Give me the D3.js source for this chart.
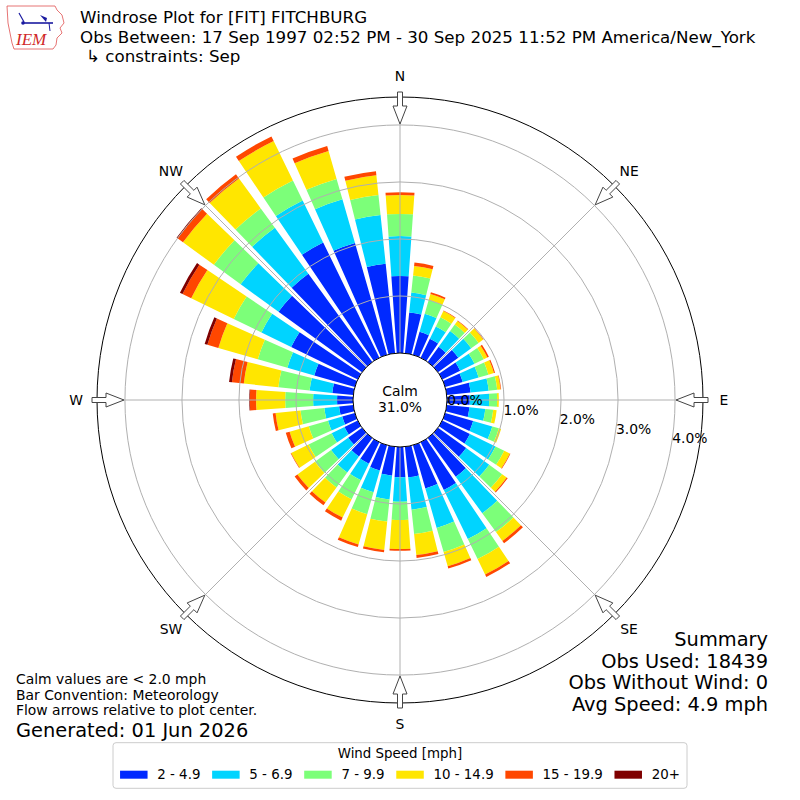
<!DOCTYPE html>
<html>
<head>
<meta charset="utf-8">
<script src="https://cdn.jsdelivr.net/npm/d3@7"></script>
<style>
  body { margin: 0; background: #fff; }
  svg { display: block; font-family: "DejaVu Sans", sans-serif; }
</style>
</head>
<body>
<svg id="chart" width="800" height="800"></svg>
<script>
// directions (deg, meteorological), one bar every 10 degrees
const directions = d3.range(0, 360, 10);

// percent of obs per speed class, same order as directions
const speed2to5   = [1.35,0.72,0.42,0.37,0.33,0.44,0.35,0.32,0.42,0.40,0.40,0.51,0.54,0.61,0.84,0.93,0.79,0.54,
                     0.53,0.51,0.46,0.42,0.40,0.30,0.26,0.23,0.25,0.28,0.37,0.74,1.30,1.81,1.91,2.25,2.04,1.58];
const speed5to7   = [0.70,0.35,0.33,0.24,0.34,0.28,0.28,0.29,0.32,0.34,0.28,0.35,0.50,0.50,0.79,0.96,0.72,0.57,
                     0.43,0.42,0.40,0.32,0.35,0.37,0.25,0.26,0.26,0.42,0.40,0.49,0.58,0.82,1.00,0.82,0.80,0.86];
const speed7to10  = [0.39,0.30,0.25,0.18,0.14,0.16,0.18,0.18,0.15,0.14,0.14,0.12,0.17,0.28,0.41,0.39,0.44,0.43,
                     0.32,0.39,0.40,0.37,0.32,0.35,0.45,0.35,0.42,0.49,0.55,0.54,0.54,0.58,0.42,0.39,0.37,0.35];
const speed10to15 = [0.33,0.17,0.11,0.12,0.08,0.10,0.07,0.10,0.06,0.03,0.06,0.04,0.11,0.10,0.19,0.30,0.26,0.37,
                     0.51,0.50,0.55,0.36,0.33,0.38,0.34,0.35,0.44,0.51,0.61,0.72,0.83,0.67,0.65,0.77,0.51,0.35];
const speed15to20 = [0.05,0.06,0.03,0.01,0.01,0.01,0.03,0.02,0.01,0.00,0.00,0.00,0.01,0.02,0.05,0.05,0.04,0.05,
                     0.03,0.04,0.05,0.06,0.06,0.06,0.01,0.07,0.05,0.11,0.21,0.20,0.17,0.12,0.09,0.09,0.09,0.07];
const speed20plus = [0,0,0,0,0,0,0,0,0,0,0,0,0,0,0,0,0,0,
                     0,0,0,0,0,0,0,0,0,0.01,0.05,0.05,0.05,0.02,0,0,0,0];

const speedLabels = ['2 - 4.9', '5 - 6.9', '7 - 9.9', '10 - 14.9', '15 - 19.9', '20+'];
const speedColors = ['#0029ff', '#00d4ff', '#7cff79', '#ffe600', '#ff4700', '#7f0000'];
const speedSeries = [speed2to5, speed5to7, speed7to10, speed10to15, speed15to20, speed20plus];

const ringTicks = [0, 1, 2, 3, 4];
const compassLabels = ['N', 'NE', 'E', 'SE', 'S', 'SW', 'W', 'NW'];
const compassAngles = [0, 45, 90, 135, 180, 225, 270, 315];
const calmPct = 31.0;

const titleLines = [
  'Windrose Plot for [FIT] FITCHBURG',
  'Obs Between: 17 Sep 1997 02:52 PM - 30 Sep 2025 11:52 PM America/New_York',
  '\u21b3 constraints: Sep'
];
const summaryLines = ['Summary', 'Obs Used: 18439', 'Obs Without Wind: 0', 'Avg Speed: 4.9 mph'];
const noteLines = ['Calm values are < 2.0 mph', 'Bar Convention: Meteorology', 'Flow arrows relative to plot center.'];

const svg = d3.select('#chart');
const cx = 400, cy = 400;
const rad = Math.PI / 180;
const barWidth = 8; // degrees

const r = d3.scaleLinear().domain([0, 4.49]).range([47, 303]);

// stacked table
const rows = directions.map((dir, i) => {
  const row = { dir };
  speedLabels.forEach((k, j) => { row[k] = speedSeries[j][i]; });
  return row;
});
const stacked = d3.stack().keys(speedLabels)(rows);

const plot = svg.append('g').attr('transform', `translate(${cx},${cy})`);

const arc = d3.arc()
  .innerRadius(d => r(d[0]))
  .outerRadius(d => r(d[1]))
  .startAngle(d => (d.data.dir - barWidth / 2) * rad)
  .endAngle(d => (d.data.dir + barWidth / 2) * rad);

plot.append('g').selectAll('g')
  .data(stacked)
  .join('g')
  .attr('fill', (d, i) => speedColors[i])
  .selectAll('path')
  .data(d => d.filter(s => s[1] - s[0] > 0))
  .join('path')
  .attr('d', arc);

// grid
const grid = plot.append('g').attr('fill', 'none').attr('stroke', '#b0b0b0').attr('stroke-width', 1);
grid.selectAll('circle')
  .data(ringTicks.slice(1))
  .join('circle')
  .attr('r', d => r(d));
grid.selectAll('line')
  .data(compassAngles)
  .join('line')
  .attr('x1', 0).attr('y1', 0)
  .attr('x2', d => r(4.49) * Math.sin(d * rad))
  .attr('y2', d => -r(4.49) * Math.cos(d * rad));

plot.append('circle')
  .attr('r', r(4.49))
  .attr('fill', 'none')
  .attr('stroke', '#000')
  .attr('stroke-width', 1);

// calm hole
plot.append('circle')
  .attr('r', r(0))
  .attr('fill', '#fff')
  .attr('stroke', '#000')
  .attr('stroke-width', 1);
plot.append('text')
  .attr('text-anchor', 'middle')
  .attr('y', -4)
  .attr('font-size', 13.9)
  .text('Calm');
plot.append('text')
  .attr('text-anchor', 'middle')
  .attr('y', 12)
  .attr('font-size', 13.9)
  .text(`${calmPct.toFixed(1)}%`);

// ring labels
const labelAng = 9.7 * rad;
plot.append('g').selectAll('text')
  .data(ringTicks)
  .join('text')
  .attr('x', d => r(d) * Math.cos(labelAng) + 1)
  .attr('y', d => r(d) * Math.sin(labelAng) - 3)
  .attr('font-size', 13.9)
  .text(d => `${d.toFixed(1)}%`);

// flow arrows on the rim, pointing in
const arrowPts = [[276, 0], [294, 7], [294, 2.5], [308, 2.5], [308, -2.5], [294, -2.5], [294, -7]];
plot.append('g').selectAll('path')
  .data(compassAngles)
  .join('path')
  .attr('d', a => {
    const s = Math.sin(a * rad), c = Math.cos(a * rad);
    return 'M' + arrowPts.map(([u, v]) => [u * s + v * c, -u * c + v * s].map(n => n.toFixed(2)).join(',')).join('L') + 'Z';
  })
  .attr('fill', '#fff')
  .attr('stroke', '#444')
  .attr('stroke-width', 1);

// compass labels
plot.append('g').selectAll('text')
  .data(compassLabels)
  .join('text')
  .attr('x', (d, i) => 324 * Math.sin(compassAngles[i] * rad))
  .attr('y', (d, i) => -324 * Math.cos(compassAngles[i] * rad))
  .attr('text-anchor', 'middle')
  .attr('dominant-baseline', 'central')
  .attr('font-size', 13.9)
  .text(d => d);

// titles
const titleY = [23, 42.5, 62];
svg.append('g').selectAll('text')
  .data(titleLines)
  .join('text')
  .attr('x', (d, i) => i === 2 ? 86 : 80)
  .attr('y', (d, i) => titleY[i])
  .attr('font-size', 16.7)
  .text(d => d);

// summary block
const summaryY = [646, 667.7, 689, 710.7];
svg.append('g').selectAll('text')
  .data(summaryLines)
  .join('text')
  .attr('x', 768)
  .attr('y', (d, i) => summaryY[i])
  .attr('text-anchor', 'end')
  .attr('font-size', 19.4)
  .text(d => d);

// notes
const noteY = [684, 699.5, 715];
svg.append('g').selectAll('text')
  .data(noteLines)
  .join('text')
  .attr('x', 16)
  .attr('y', (d, i) => noteY[i])
  .attr('font-size', 13.9)
  .text(d => d);
svg.append('text')
  .attr('x', 16).attr('y', 736.5)
  .attr('font-size', 19.4)
  .text('Generated: 01 Jun 2026');

// legend
const legend = svg.append('g');
legend.append('rect')
  .attr('x', 113).attr('y', 742.7)
  .attr('width', 574).attr('height', 45.6)
  .attr('rx', 3)
  .attr('fill', '#fff')
  .attr('stroke', '#cccccc');
legend.append('text')
  .attr('x', 400).attr('y', 757.8)
  .attr('text-anchor', 'middle')
  .attr('font-size', 13.4)
  .text('Wind Speed [mph]');

const items = legend.selectAll('g.item')
  .data(speedLabels)
  .join('g')
  .attr('class', 'item');
items.append('rect')
  .attr('width', 27.5).attr('height', 8)
  .attr('fill', (d, i) => speedColors[i]);
items.append('text')
  .attr('x', 37.2).attr('y', 8.6)
  .attr('font-size', 13.4)
  .text(d => d);

const widths = [];
items.each(function () {
  widths.push(37.2 + this.querySelector('text').getComputedTextLength());
});
const gap = 11.7;
const total = d3.sum(widths) + gap * (widths.length - 1);
let xPos = 400 - total / 2;
items.attr('transform', (d, i) => {
  const t = `translate(${xPos},770.7)`;
  xPos += widths[i] + gap;
  return t;
});

// IEM logo
const logo = svg.append('g');
logo.append('path')
  .attr('d', 'M7,6 L55,6 L57,10 L62,15 L64,23 L60,28 L62,33 L57,38 L56,45 L53,49 L14,49 L12,43 L10,33 L8,23 Z')
  .attr('fill', 'none')
  .attr('stroke', '#e05050')
  .attr('stroke-width', 0.8);
logo.append('line').attr('x1', 22).attr('y1', 23).attr('x2', 53).attr('y2', 23)
  .attr('stroke', '#1a1aa0').attr('stroke-width', 1.6);
logo.append('line').attr('x1', 19).attr('y1', 13).attr('x2', 24).attr('y2', 22)
  .attr('stroke', '#1a1aa0').attr('stroke-width', 1.2);
logo.append('path').attr('d', 'M40,15 L47,18 L46,22 Z').attr('fill', '#1a1aa0');
logo.append('line').attr('x1', 49).attr('y1', 23).attr('x2', 50).attr('y2', 31)
  .attr('stroke', '#1a1aa0').attr('stroke-width', 1);
logo.append('circle').attr('cx', 23).attr('cy', 23).attr('r', 1.8).attr('fill', '#1a1aa0');
logo.append('text')
  .attr('x', 16).attr('y', 45)
  .attr('font-family', '"Liberation Serif", serif')
  .attr('font-style', 'italic')
  .attr('font-size', 17)
  .attr('fill', '#d02828')
  .text('IEM');
</script>
</body>
</html>
